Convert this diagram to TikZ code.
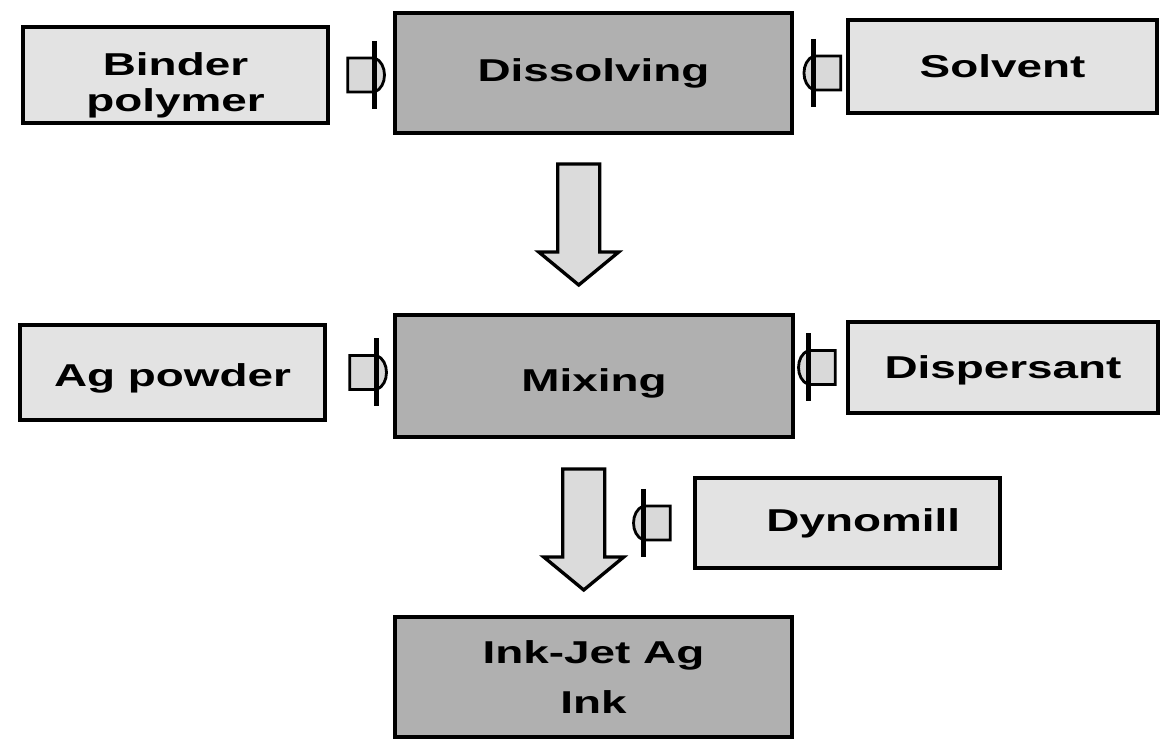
\documentclass[tikz,border=0pt]{standalone}
\usepackage{fontspec}
\newfontfamily\labelfont{Liberation Sans}[FakeStretch=1.45]
\usetikzlibrary{calc}

\newcommand\lowered[2]{\raisebox{#1}[\ht\strutbox][\dp\strutbox]{#2}}

\tikzset{
    box/.style={draw=black, line width=2pt, align=center, inner sep=0pt,
        font=\fontsize{18}{20}\selectfont\labelfont\bfseries},
    inbox/.style={box, fill=gray!22},
    stepbox/.style={box, fill=gray!62},
    feed/.pic={
        \draw[line width=1.6pt, fill=gray!30] (-27,-17) -- (0,-17) .. controls (13,-12) and (13,12) .. (0,17) -- (-27,17) -- cycle;
        \draw[line width=2.6pt] (0,-34) -- (0,34);
    },
    drop/.pic={
        \draw[line width=1.9pt, fill=gray!28] (-21,-60) -- (21,-60) -- (21,28) -- (40,28) -- (0,61) -- (-40,28) -- (-21,28) -- cycle;
    }
}

\begin{document}
\begin{tikzpicture}[x=0.02cm, y=-0.02cm]
        \useasboundingbox (0,0) rectangle (1161,742);

        % Process steps
        \node[stepbox, minimum width=7.94cm, minimum height=2.4cm] (dissolve) at (593.5,73) {Dissolving};
        \node[stepbox, minimum width=7.96cm, minimum height=2.44cm] (mixing) at (594,376) {\lowered{-5pt}{Mixing}};
        \node[stepbox, minimum width=7.94cm, minimum height=2.4cm] (ink) at (593.5,677) {Ink-Jet Ag\\[8pt]Ink};

        % Inputs
        \node[inbox, minimum width=6.1cm, minimum height=1.92cm] (binder) at (175.5,75) {\lowered{-6.5pt}{Binder}\\\lowered{-6.5pt}{polymer}};
        \node[inbox, minimum width=6.18cm, minimum height=1.86cm] (solvent) at (1002.5,66.5) {Solvent};
        \node[inbox, minimum width=6.1cm, minimum height=1.9cm] (agpowder) at (172.5,372.5) {\lowered{-4pt}{Ag powder}};
        \node[inbox, minimum width=6.2cm, minimum height=1.82cm] (dispersant) at (1003,367.5) {\lowered{-2pt}{Dispersant}};
        \node[inbox, minimum width=6.1cm, minimum height=1.8cm] (dynomill) at (847.5,523) {\hspace*{18pt}Dynomill};

        % Small feed arrows
        \pic at ($(binder.east)+(45,0)$) {feed};
        \pic at ($(agpowder.east)+(50,0)$) {feed};
        \pic[xscale=-1] at ($(dissolve.east)+(20,0)$) {feed};
        \pic[xscale=-1] at ($(dispersant.west)+(-38,0)$) {feed};
        \pic[xscale=-1] at ($(dynomill.west)+(-50,0)$) {feed};

        % Big arrows down
        \pic at ($(dissolve.south)!0.5!(mixing.north)+(-15,0)$) {drop};
        \pic at ($(mixing.south)!0.5!(ink.north)+(-10,2)$) {drop};

    \end{tikzpicture}
\end{document}
